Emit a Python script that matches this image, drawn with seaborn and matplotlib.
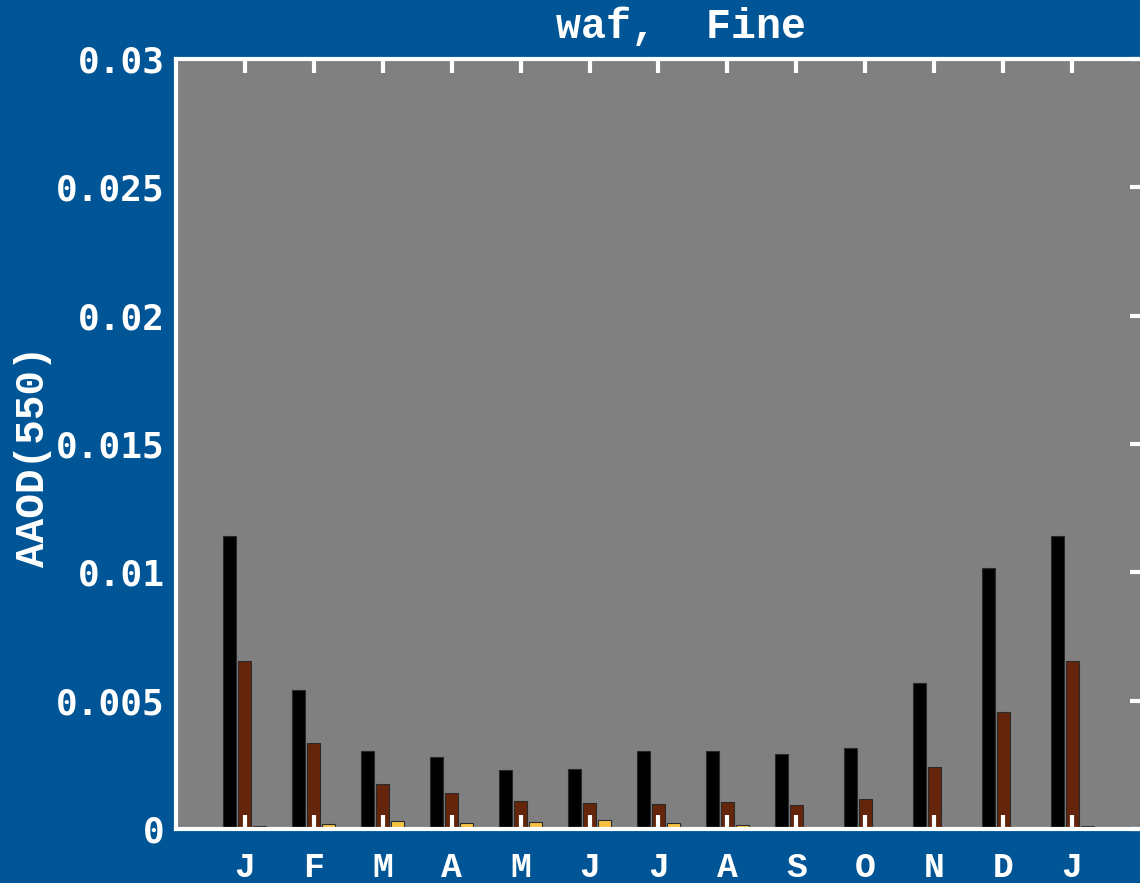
import matplotlib
matplotlib.use("Agg")
import matplotlib.pyplot as plt
from matplotlib import font_manager
import seaborn as sns
import pandas as pd

# monthly fine-mode AAOD(550) for three components
months = ["J", "F", "M", "A", "M", "J", "J", "A", "S", "O", "N", "D", "J"]
positions = list(range(1, 14))
series_names = ["BC", "BrC", "Dust"]
bc = [0.01143, 0.0054, 0.00305, 0.0028, 0.00231, 0.00234, 0.00302,
      0.00303, 0.00291, 0.00316, 0.00568, 0.01017, 0.01143]
brc = [0.00655, 0.00336, 0.00175, 0.00141, 0.00108, 0.0010, 0.00097,
       0.00105, 0.00093, 0.00116, 0.0024, 0.00455, 0.00655]
dust = [0.0001, 0.00018, 0.0003, 0.00023, 0.00027, 0.00035, 0.00025,
        0.00015, 0.00003, 0.0, 0.0, 0.0, 0.0001]
yticks = [0, 0.005, 0.01, 0.015, 0.02, 0.025, 0.03]
ytick_labels = ["0", "0.005", "0.01", "0.015", "0.02", "0.025", "0.03"]

colors = ["#000000", "#65250a", "#f5c242"]
bg = "#005596"

# courier-like font if one is installed, else DejaVu Sans Mono
installed = {f.name for f in font_manager.fontManager.ttflist}
mono = "DejaVu Sans Mono"
for name in ["Liberation Mono", "Courier New", "Nimbus Mono PS", "FreeMono", "Courier"]:
    if name in installed:
        mono = name
        break

df = pd.DataFrame({
    "pos": positions * 3,
    "series": [s for s in series_names for _ in positions],
    "aaod": bc + brc + dust,
})

fig = plt.figure(figsize=(11.4, 8.83), dpi=100, facecolor=bg)
ax = fig.add_axes([176 / 1140, 54 / 883, 965 / 1140, 770 / 883])
ax.set_facecolor("#808080")

sns.barplot(data=df, x="pos", y="aaod", hue="series", hue_order=series_names,
            palette=colors, native_scale=True, width=0.65, gap=0.13,
            edgecolor="#2a2a2a", linewidth=0.8, saturation=1, legend=False, ax=ax)

ax.set_xlim(0, 14)
ax.set_ylim(0, 0.03)
ax.set_xlabel("")
ax.set_ylabel("")

ax.set_xticks(positions)
ax.set_xticklabels(months, family=mono, fontsize=25, fontweight="bold", color="white")
ax.set_yticks(yticks)
ax.set_yticklabels(ytick_labels, family="DejaVu Sans Mono", fontsize=26,
                   fontweight="bold", color="white")

ax.tick_params(axis="x", which="both", direction="in", top=True, bottom=True,
               length=10, width=3, color="white", pad=16)
ax.tick_params(axis="y", which="both", direction="in", left=True, right=True,
               length=0, width=3, color="white", pad=8)
for t in ax.yaxis.get_major_ticks():
    t.tick2line.set_markersize(8)

for side in ["left", "top", "bottom"]:
    ax.spines[side].set_color("white")
    ax.spines[side].set_linewidth(3)
ax.spines["right"].set_visible(False)

fig.text(681 / 1140, 1 - 27 / 883, "waf,  Fine", family=mono, fontsize=30,
         fontweight="bold", color="white", ha="center", va="center")
fig.text(33 / 1140, 1 - 456 / 883, "AAOD(550)", family=mono, fontsize=29.5,
         fontweight="bold", color="white", ha="center", va="center", rotation=90)

fig.savefig("out.png", dpi=100, facecolor=bg)
